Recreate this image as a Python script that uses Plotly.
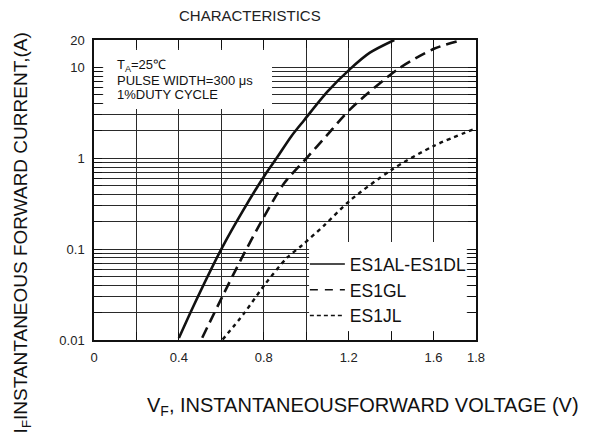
import numpy as np
import plotly.graph_objects as go

# ---- data ----
vf_ad = [0.40, 0.47, 0.60, 0.70, 0.81, 0.86, 0.93, 0.99, 1.10, 1.205, 1.30, 1.415]
if_ad = [0.0105, 0.024, 0.10, 0.26, 0.68, 1.0, 1.75, 2.62, 5.4, 9.5, 14.5, 20.0]

vf_gl = [0.51, 0.606, 0.694, 0.792, 0.895, 1.006, 1.094, 1.208, 1.431, 1.602, 1.733]
if_gl = [0.0106, 0.0305, 0.078, 0.208, 0.527, 1.03, 1.75, 3.47, 9.5, 16.0, 20.0]

vf_jl = [0.606, 0.706, 0.808, 0.911, 0.982, 1.086, 1.208, 1.40, 1.602, 1.80]
if_jl = [0.0101, 0.0195, 0.0417, 0.081, 0.111, 0.184, 0.345, 0.74, 1.37, 2.13]

series_names = ["ES1AL-ES1DL", "ES1GL", "ES1JL"]

x_ticks = [0, 0.2, 0.4, 0.6, 0.8, 1.0, 1.2, 1.4, 1.6, 1.8]
x_labels = ["0", "", "0.4", "", "0.8", "", "1.2", "", "1.6", "1.8"]

y_ticks = [0.01, 0.02, 0.03, 0.04, 0.05, 0.06, 0.07, 0.08, 0.09,
           0.1, 0.2, 0.3, 0.4, 0.5, 0.6, 0.7, 0.8, 0.9,
           1, 2, 3, 4, 5, 6, 7, 8, 9, 10, 20]
y_labels = (["0.01"] + [""] * 8 + ["0.1"] + [""] * 8 + ["1"] + [""] * 8 + ["10", "20"])

FONT = "Liberation Sans, Arial, sans-serif"

fig = go.Figure()
styles = [
    dict(color="#111", width=2.6, dash="solid"),
    dict(color="#111", width=2.6, dash="11px,6px"),
    dict(color="#111", width=2.4, dash="4px,4px"),
]
legend_styles = [
    dict(color="#111", width=1.3, dash="solid"),
    dict(color="#111", width=1.3, dash="8px,7px"),
    dict(color="#111", width=1.3, dash="4px,3px"),
]
for xs, ys, st in zip([vf_ad, vf_gl, vf_jl], [if_ad, if_gl, if_jl], styles):
    fig.add_trace(go.Scatter(x=xs, y=ys, mode="lines", line=dict(shape="spline", smoothing=0.8, **st),
                             showlegend=False, hoverinfo="skip"))
for name, st in zip(series_names, legend_styles):
    fig.add_trace(go.Scatter(x=[None], y=[None], mode="lines", name=name, line=st,
                             legendgroup=name))

grid_col = "#2a2a2a"
fig.update_layout(
    width=585, height=433,
    margin=dict(l=86, r=117, t=32, b=101),
    paper_bgcolor="white", plot_bgcolor="white",
    font=dict(family=FONT, color="#111"),
    xaxis=dict(range=[0, 1.8], tickvals=x_ticks, ticktext=x_labels,
               showgrid=True, gridcolor=grid_col, gridwidth=1,
               showline=True, linecolor="#111", linewidth=1.5, mirror="ticks",
               ticks="inside", ticklen=8, tickcolor="#111", tickwidth=1,
               tickfont=dict(size=13, color="#222"), ticklabelstandoff=5, zeroline=False),
    yaxis=dict(type="log", range=[-2, np.log10(20)], tickvals=y_ticks, ticktext=y_labels,
               showgrid=True, gridcolor=grid_col, gridwidth=1,
               showline=True, linecolor="#111", linewidth=1.5, mirror="ticks",
               ticks="inside", ticklen=8, tickcolor="#111", tickwidth=1,
               tickfont=dict(size=13, color="#222"), ticklabelstandoff=5, zeroline=False),
    legend=dict(x=0.552, y=0.313, xanchor="left", yanchor="top", bgcolor="rgba(0,0,0,0)",
                font=dict(size=17.5, color="#111"), tracegroupgap=0, itemwidth=35),
    shapes=[
        dict(type="rect", xref="paper", yref="paper", x0=0.024, x1=0.466, y0=0.77, y1=0.967,
             fillcolor="white", line=dict(width=0), layer="above"),
        dict(type="rect", xref="paper", yref="paper", x0=0.563, x1=0.976, y0=0.03, y1=0.327,
             fillcolor="white", line=dict(width=0), layer="above"),
    ],
)

ann = []
ann.append(dict(text="CHARACTERISTICS", xref="paper", yref="paper", x=0.408, y=1.08,
                xanchor="center", yanchor="middle", showarrow=False,
                font=dict(size=15, color="#222")))
box_lines = ["T<sub>A</sub>=25℃", "PULSE WIDTH=300 μs", "1%DUTY CYCLE"]
box_y = [0.916, 0.866, 0.818]
for t, yy in zip(box_lines, box_y):
    ann.append(dict(text=t, xref="paper", yref="paper", x=0.055, y=yy,
                    xanchor="left", yanchor="middle", showarrow=False,
                    font=dict(size=13, color="#111")))
ann.append(dict(text="V<sub>F</sub>, INSTANTANEOUSFORWARD VOLTAGE (V)", xref="paper", yref="paper",
                x=0.703, y=-0.223, xanchor="center", yanchor="middle", showarrow=False,
                font=dict(size=20, color="#111")))
ann.append(dict(text="I<sub>F</sub>INSTANTANEOUS FORWARD CURRENT,(A)", xref="paper", yref="paper",
                x=-0.189, y=0.358, xanchor="center", yanchor="middle", showarrow=False,
                textangle=-90, font=dict(size=19, color="#111")))
fig.update_layout(annotations=ann)

fig.write_html("out.html")
